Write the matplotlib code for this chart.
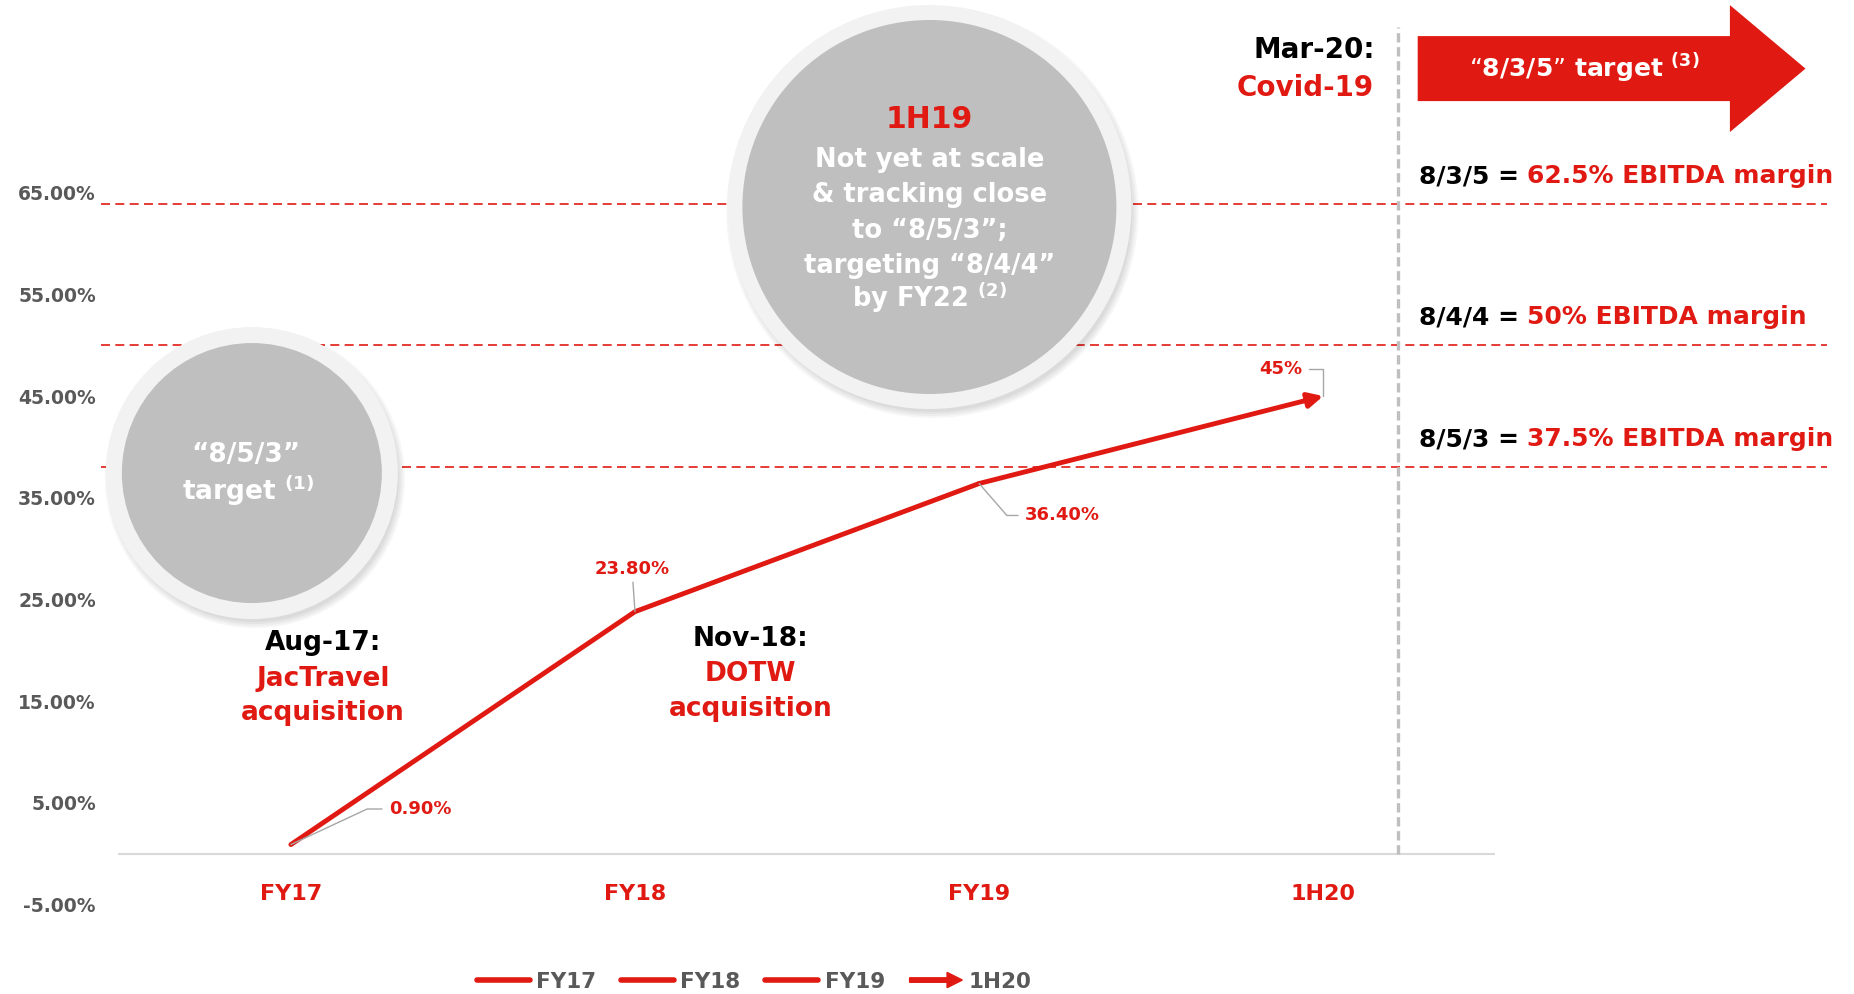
import matplotlib
matplotlib.use('Agg')
import matplotlib.pyplot as plt
import matplotlib.patches as mpatches
from matplotlib.lines import Line2D
from matplotlib.transforms import ScaledTranslation
from matplotlib.legend_handler import HandlerPatch

# data
periods = ['FY17', 'FY18', 'FY19', '1H20']
margin = [0.9, 23.8, 36.4, 45.0]
margin_labels = ['0.90%', '23.80%', '36.40%', '45%']
y_ticks = [-5, 5, 15, 25, 35, 45, 55, 65]
target_names = ['8/3/5 =', '8/4/4 =', '8/5/3 =']
target_texts = ['62.5% EBITDA margin', '50% EBITDA margin', '37.5% EBITDA margin']
target_levels = [63.9, 50.0, 38.0]

RED = '#E01A12'
GREY = '#595959'
LEADER = '#A6A6A6'

plt.rcParams['font.family'] = ['DejaVu Sans']
plt.rcParams['font.weight'] = 'bold'
plt.rcParams['mathtext.default'] = 'bf'

fig = plt.figure(figsize=(18.54, 9.94), dpi=100)
ax = fig.add_axes([0.05852, 0.06952, 0.93361, 0.92082])
for s in ax.spines.values():
    s.set_visible(False)
ax.set_xticks([])
ax.set_yticks(y_ticks)
ax.set_yticklabels([f'{v:.2f}%' for v in y_ticks], fontsize=13.5,
                   fontweight='bold', color=GREY)
ax.tick_params(axis='y', length=0, pad=9)

# baseline and reference lines
ax.hlines(0, -0.502, 3.5, color='#D9D9D9', lw=1.5, zorder=1)
for lvl in target_levels:
    ax.plot([-0.553, 4.464], [lvl, lvl], color=RED, lw=1.2,
            dashes=(5.4, 3.2), zorder=1, clip_on=False)
ax.plot([3.216, 3.216], [0, 81.3], color='#BFBFBF', lw=2.4,
        dashes=(2.8, 1.4), zorder=1, clip_on=False)

# margin line, last period drawn as arrow
ax.plot(range(3), margin[:3], color=RED, lw=3.5, zorder=6,
        solid_capstyle='round')
ax.annotate('', xy=(3, margin[3]), xytext=(2, margin[2]),
            arrowprops=dict(arrowstyle='-|>', color=RED, lw=3.5,
                            mutation_scale=22, shrinkA=0, shrinkB=0),
            zorder=6)

for i, p in enumerate(periods):
    ax.text(i, -3.95, p, ha='center', va='center', fontsize=16,
            color=RED, fontweight='bold')

# value labels with leader lines
lbl_style = dict(textcoords='offset points', fontsize=13, color=RED,
                 fontweight='bold', va='center', zorder=7)
ax.annotate(margin_labels[0], xy=(0, margin[0]), xytext=(70.6, 25.6),
            ha='left', arrowprops=dict(arrowstyle='-', color=LEADER, lw=1,
            shrinkA=3, shrinkB=0, relpos=(0, 0.5),
            connectionstyle='angle,angleA=0,angleB=25,rad=0'), **lbl_style)
ax.annotate(margin_labels[1], xy=(1, margin[1]), xytext=(-1.7, 30.7),
            ha='center', arrowprops=dict(arrowstyle='-', color=LEADER, lw=1,
            shrinkA=1, shrinkB=0, relpos=(0.5, 0)), **lbl_style)
ax.annotate(margin_labels[2], xy=(2, margin[2]), xytext=(33, -23),
            ha='left', arrowprops=dict(arrowstyle='-', color=LEADER, lw=1,
            shrinkA=3, shrinkB=0, relpos=(0, 0.5),
            connectionstyle='angle,angleA=0,angleB=131,rad=0'), **lbl_style)
ax.annotate(margin_labels[3], xy=(3, margin[3]), xytext=(-15.3, 19.5),
            ha='right', arrowprops=dict(arrowstyle='-', color=LEADER, lw=1,
            shrinkA=3, shrinkB=0, relpos=(1, 0.5),
            connectionstyle='angle,angleA=0,angleB=90,rad=0'), **lbl_style)


def bubble(x, y, r_out, r_in):
    tr = fig.dpi_scale_trans + ScaledTranslation(x, y, ax.transData)
    for k in range(4):
        ax.add_patch(mpatches.Circle((0.03, -0.05), r_out + 0.04 - 0.02 * k,
                                     transform=tr, color='black', alpha=0.035,
                                     lw=0, zorder=3, clip_on=False))
    ax.add_patch(mpatches.Circle((0, 0), r_out, transform=tr, color='#F2F2F2',
                                 lw=0, zorder=4, clip_on=False))
    ax.add_patch(mpatches.Circle((0, 0), r_in, transform=tr, color='#BFBFBF',
                                 lw=0, zorder=5, clip_on=False))


def circle_text(x, y, txt, dx, dy, size, color='white'):
    ax.annotate(txt, xy=(x, y), xytext=(dx, dy), textcoords='offset points',
                ha='center', va='center', fontsize=size, color=color,
                fontweight='bold', zorder=8, annotation_clip=False)


# small bubble
bubble(-0.1134, 37.43, 1.46, 1.30)
circle_text(-0.1134, 37.43, '\u201c8/5/3\u201d', -4.2, 13, 19)
circle_text(-0.1134, 37.43, 'target $^{(1)}$', -2.6, -12.7, 19)

# big bubble
bubble(1.8555, 63.59, 2.02, 1.87)
circle_text(1.8555, 63.59, '1H19', 0, 63.1, 21.5, RED)
big_lines = ['Not yet at scale', '& tracking close', 'to \u201c8/5/3\u201d;',
             'targeting \u201c8/4/4\u201d', 'by FY22 $^{(2)}$']
for line, dy in zip(big_lines, [34.1, 8.6, -17.0, -42.5, -65.0]):
    circle_text(1.8555, 63.59, line, 0, dy, 18.5)

# event notes
ev = dict(ha='center', va='center', fontsize=19, fontweight='bold', zorder=7)
ax.text(0.0927, 20.72, 'Aug-17:', color='black', **ev)
ax.text(0.0927, 17.21, 'JacTravel', color=RED, **ev)
ax.text(0.0927, 13.83, 'acquisition', color=RED, **ev)
ax.text(1.3365, 21.16, 'Nov-18:', color='black', **ev)
ax.text(1.3365, 17.67, 'DOTW', color=RED, **ev)
ax.text(1.3365, 14.19, 'acquisition', color=RED, **ev)
ev['ha'] = 'right'
ev['fontsize'] = 20
ax.text(3.1506, 79.06, 'Mar-20:', color='black', **ev)
ax.text(3.147, 75.34, 'Covid-19', color=RED, **ev)

# big target arrow
fig.add_artist(mpatches.FancyArrow(14.177, 9.254, 3.878, 0, width=0.65,
                                   head_width=1.27, head_length=0.756,
                                   length_includes_head=True, color=RED,
                                   lw=0, transform=fig.dpi_scale_trans))
fig.text(1584 / 1854, 9.254 / 9.94, '\u201c8/3/5\u201d target $^{(3)}$',
         ha='center', va='center', fontsize=18, color='white', fontweight='bold')

# target margin texts
for name, txt, lvl in zip(target_names, target_texts, target_levels):
    t = ax.annotate(name, xy=(3.278, lvl), xytext=(0, 20),
                    textcoords='offset points', ha='left', va='center',
                    fontsize=18, color='black', fontweight='bold',
                    annotation_clip=False)
    ax.annotate(txt, xy=(1, 0), xycoords=t, xytext=(6, 0),
                textcoords='offset points', ha='left', va='bottom',
                fontsize=18, color=RED, fontweight='bold')

ax.set_xlim(-0.53, 4.5)
ax.set_ylim(-7, 83)


# legend
def make_arrow(legend, orig_handle, xdescent, ydescent, width, height, fontsize):
    return mpatches.FancyArrow(0, height / 2, width, 0, width=3.2,
                               head_width=11, head_length=11,
                               length_includes_head=True)


handles = [Line2D([], [], color=RED, lw=4, solid_capstyle='round') for _ in range(3)]
arrow_h = mpatches.Patch(color=RED)
handles.append(arrow_h)
fig.legend(handles, periods, loc='center', bbox_to_anchor=(0.4069, 0.0125),
           ncol=4, frameon=False, handlelength=2.45, handletextpad=0.3,
           columnspacing=1.15, prop={'weight': 'bold', 'size': 15.5},
           labelcolor=GREY, handler_map={arrow_h: HandlerPatch(patch_func=make_arrow)})

fig.savefig('out.png', dpi=100)
